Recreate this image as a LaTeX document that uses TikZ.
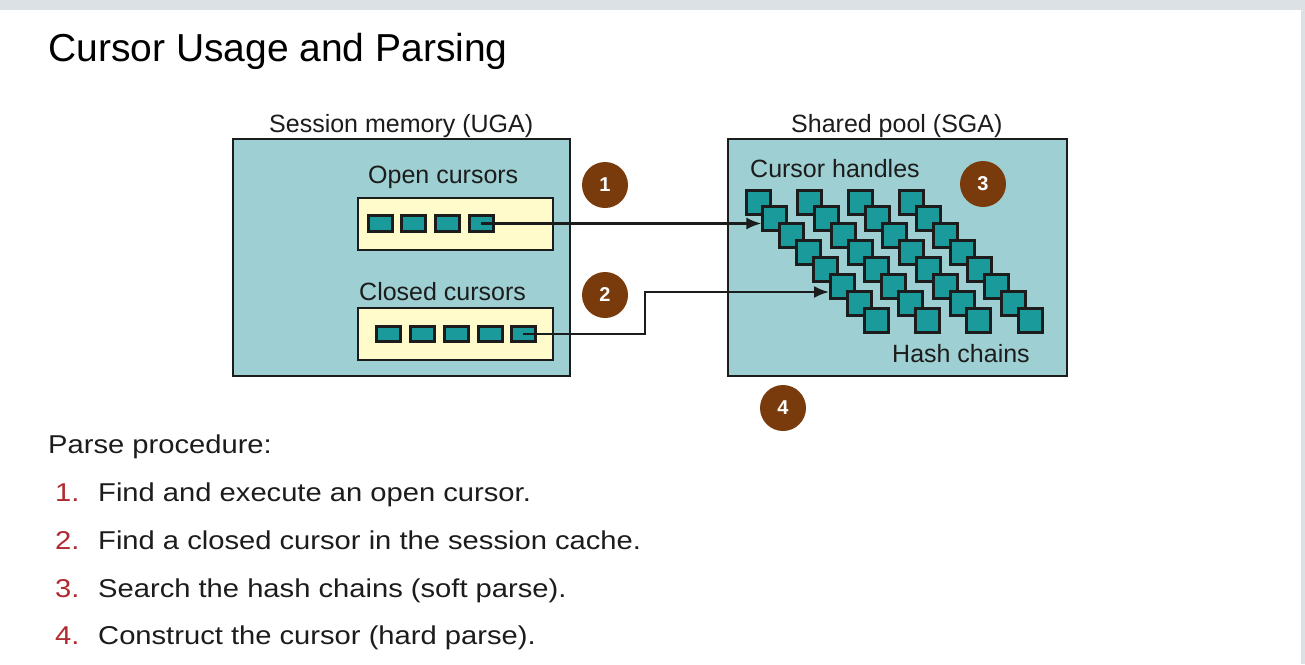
\documentclass[tikz,border=0pt]{standalone}
\usepackage{fontspec}
\setmainfont{Liberation Sans}
\newfontfamily\widefont[FakeStretch=1.13]{Liberation Sans}
\usetikzlibrary{arrows.meta}
\definecolor{pagegray}{HTML}{DCE1E5}
\definecolor{poolfill}{HTML}{9ECFD2}
\definecolor{cellfill}{HTML}{1A9A9A}
\definecolor{listfill}{HTML}{FFFBCB}
\definecolor{badgefill}{HTML}{7A3B0C}
\definecolor{ink}{HTML}{1C1C1C}
\definecolor{numred}{HTML}{B02A30}
\tikzset{
  region/.style={draw=ink, line width=2.5pt, fill=poolfill},
  listbox/.style={draw=ink, line width=2.6pt, fill=listfill},
  cell/.style={draw=ink, line width=3pt, fill=cellfill, inner sep=0pt, minimum width=24pt, minimum height=15.5pt},
  hcell/.style={draw=ink, line width=3pt, fill=cellfill, inner sep=0pt, minimum size=24pt},
  badge/.style={circle, fill=badgefill, text=white, inner sep=0pt, minimum size=46pt, font=\fontsize{20}{24}\selectfont\bfseries},
  lbl/.style={anchor=base west, inner sep=0pt, text=ink, font=\fontsize{25}{30}\selectfont},
  body/.style={anchor=base west, inner sep=0pt, text=ink, font=\widefont\fontsize{25.8}{31}\selectfont},
  num/.style={anchor=base west, inner sep=0pt, text=numred, font=\widefont\fontsize{25.8}{31}\selectfont},
  link/.style={draw=ink, line width=2.3pt, -{Latex[length=15pt, width=12pt]}}
}
\begin{document}
\begin{tikzpicture}[x=1pt,y=-1pt]
% page background
\fill[pagegray] (0,0) rectangle (1305,664);
\fill[white] (0,10) rectangle (1301,664);
\useasboundingbox (0,0) rectangle (1305,664);

% title
\node[anchor=base west, inner sep=0pt, text=black, font=\fontsize{39}{46}\selectfont] (title) at (48,61) {Cursor Usage and Parsing};

% session memory region
\node[lbl] (uga) at (269,132) {Session memory (UGA)};
\path[region] (233,139) rectangle (570,376);
\node[lbl] (openlbl) at (368,183) {Open cursors};
\path[listbox] (358,198) rectangle (553,250);
\foreach \i/\x in {1/380,2/413,3/447,4/481}
  \node[cell] (o\i) at (\x,223.5) {};
\node[lbl] (closedlbl) at (359,300) {Closed cursors};
\path[listbox] (358,308) rectangle (553,360);
\foreach \i/\x in {1/388,2/422,3/456,4/490,5/523}
  \node[cell] (c\i) at (\x,334) {};

% shared pool region
\node[lbl] (sga) at (791,132) {Shared pool (SGA)};
\path[region] (728,139) rectangle (1067,376);
\node[lbl] (handles) at (750,177) {Cursor handles};
\node[lbl] (hash) at (892,362) {Hash chains};
\foreach \k in {0,1,2,3}
  \foreach \i in {0,...,7}
    \node[hcell] (h\k\i) at ({758+51.3*\k+16.9*\i},{202+16.9*\i}) {};

% badges
\node[badge] (b1) at (605,185) {1};
\node[badge] (b2) at (605,295) {2};
\node[badge] (b3) at (983,184) {3};
\node[badge] (b4) at (783,408) {4};

% connectors
\draw[link] (o4.center) -- (o4.center -| h01.west);
\coordinate (bend) at (645,292);
\draw[link] (c5.center) -| (bend) -- (bend -| h05.west);

% parse procedure text
\node[body] (pp) at (48,453) {Parse procedure:};
\node[num] (n1) at (55,501) {1.};
\node[body] (t1) at (98,501) {Find and execute an open cursor.};
\node[num] (n2) at (55,549) {2.};
\node[body] (t2) at (98,549) {Find a closed cursor in the session cache.};
\node[num] (n3) at (55,597) {3.};
\node[body] (t3) at (98,597) {Search the hash chains (soft parse).};
\node[num] (n4) at (55,644) {4.};
\node[body] (t4) at (98,644) {Construct the cursor (hard parse).};
\end{tikzpicture}
\end{document}
